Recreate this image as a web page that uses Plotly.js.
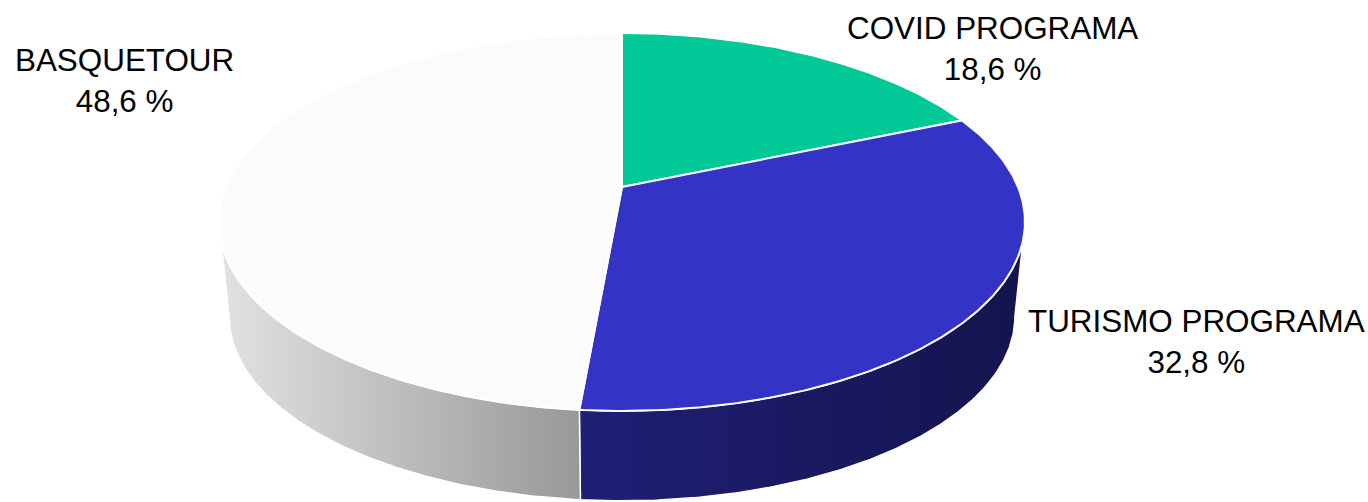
<!DOCTYPE html>
<html>
<head>
<meta charset="utf-8">
<script src="https://cdn.plot.ly/plotly-3.0.1.min.js"></script>
<style>html,body{margin:0;padding:0;background:#fff;}#chart{width:1368px;height:502px;}</style>
</head>
<body>
<div id="chart"></div>
<script>
// ---- data ----
const labels = ['COVID PROGRAMA', 'TURISMO PROGRAMA', 'BASQUETOUR'];
const values = [18.6, 32.8, 48.6];

// ---- styles ----
const topColors = ['#00C896', '#3333C6', '#FBFBFB'];
const sideScales = [
  [[0, '#00785a'], [1, '#005a44']],
  [[0, '#1f1f76'], [1, '#14144e']],
  [[0, '#e2e2e2'], [1, '#989898']]
];
const labelPos = [[992, 49], [1196, 342], [124, 81]];

// ---- geometry (projection of a tilted disk) ----
const G = {cx: 622, cy: 187, A: 396, B: 182.5, p: 0.185, s: 0.975, D: 95.5};
function topPt(deg) {
  const t = deg * Math.PI / 180;
  const X = Math.sin(t), Z = Math.cos(t), w = 1 + G.p * Z;
  return [G.cx + G.A * X / w, G.cy - G.B * Z / w];
}
function botPt(deg) {
  const q = topPt(deg);
  return [G.cx + G.s * (q[0] - G.cx), G.cy + G.D + G.s * (q[1] - G.cy)];
}
function arc(f, a, b) {
  const n = Math.max(2, Math.ceil(Math.abs(b - a) / 0.5));
  const pts = [];
  for (let i = 0; i <= n; i++) pts.push(f(a + (b - a) * i / n));
  return pts;
}
// visible range of the cylinder wall (silhouette where cos = -p)
const visA = 90 + Math.asin(G.p) * 180 / Math.PI;
const visB = 360 - visA;

const total = values.reduce((a, b) => a + b, 0);
const angles = [];
let acc = 0;
values.forEach(v => { const a0 = acc / total * 360; acc += v; angles.push([a0, acc / total * 360]); });

const traces = [];
// side walls
angles.forEach(([a0, a1], i) => {
  const s0 = Math.max(a0, visA), s1 = Math.min(a1, visB);
  if (s1 <= s0) return;
  const pts = arc(topPt, s0, s1).concat(arc(botPt, s1, s0));
  pts.push(pts[0]);
  traces.push({
    type: 'scatter', mode: 'lines', fill: 'toself',
    x: pts.map(p => p[0]), y: pts.map(p => p[1]),
    line: {color: '#ffffff', width: 1.5},
    fillgradient: {type: 'horizontal', colorscale: sideScales[i]},
    hoverinfo: 'skip'
  });
});
// top faces
angles.forEach(([a0, a1], i) => {
  const pts = [[G.cx, G.cy]].concat(arc(topPt, a0, a1));
  pts.push([G.cx, G.cy]);
  traces.push({
    type: 'scatter', mode: 'lines', fill: 'toself',
    x: pts.map(p => p[0]), y: pts.map(p => p[1]),
    fillcolor: topColors[i],
    line: {color: '#ffffff', width: 2},
    hoverinfo: 'skip'
  });
});

const fmt = v => v.toFixed(1).replace('.', ',') + ' %';
const annotations = labels.map((l, i) => ({
  x: labelPos[i][0], y: labelPos[i][1], xref: 'x', yref: 'y',
  text: l + '<br>' + fmt(values[i]), showarrow: false,
  xanchor: 'center', yanchor: 'middle', align: 'center',
  font: {family: 'Liberation Sans, Arial, sans-serif', size: 31.4, color: '#000000'}
}));

const layout = {
  width: 1368, height: 502,
  margin: {l: 0, r: 0, t: 0, b: 0, pad: 0},
  paper_bgcolor: '#ffffff', plot_bgcolor: '#ffffff',
  showlegend: false,
  xaxis: {range: [0, 1368], autorange: false, visible: false, fixedrange: true},
  yaxis: {range: [502, 0], autorange: false, visible: false, fixedrange: true},
  annotations: annotations
};
Plotly.newPlot('chart', traces, layout, {staticPlot: true, displayModeBar: false});
</script>
</body>
</html>
